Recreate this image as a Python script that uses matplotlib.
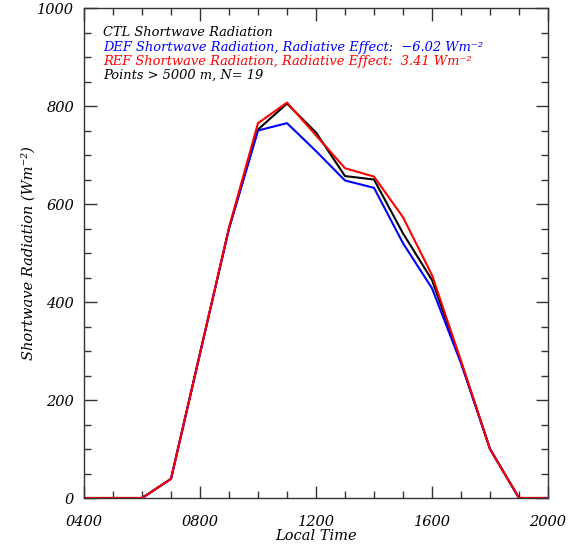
import matplotlib
matplotlib.use("Agg")
import matplotlib.pyplot as plt
from matplotlib.ticker import MultipleLocator, FuncFormatter

hours = [4, 5, 6, 7, 8, 9, 10, 11, 12, 13, 14, 15, 16, 17, 18, 19, 20]
ctl = [0, 0, 0, 39, 295, 550, 752, 805, 746, 657, 650, 540, 445, 278, 100, 0, 0]
dfe = [0, 0, 0, 39, 295, 550, 750, 765, 708, 648, 633, 520, 428, 275, 100, 0, 0]
ref = [0, 0, 0, 39, 295, 552, 765, 807, 740, 673, 656, 573, 455, 280, 100, 0, 0]

legend_lines = [
    ("CTL Shortwave Radiation", "black"),
    ("DEF Shortwave Radiation, Radiative Effect:  \u22126.02 Wm\u207b\u00b2", "#0000ff"),
    ("REF Shortwave Radiation, Radiative Effect:  3.41 Wm\u207b\u00b2", "#ff0000"),
    ("Points > 5000 m, N= 19", "black"),
]

font = dict(family="DejaVu Serif", style="italic")

fig = plt.figure(figsize=(5.74, 5.44), dpi=100)
ax = fig.add_axes([84/574, 1-498/544, 464/574, 490/544])

ax.plot(hours, ctl, color="black", lw=1.5)
ax.plot(hours, dfe, color="#0000ff", lw=1.5)
ax.plot(hours, ref, color="#ff0000", lw=1.5)

ax.set_xlim(4, 20)
ax.set_ylim(0, 1000)
ax.xaxis.set_major_locator(MultipleLocator(4))
ax.xaxis.set_minor_locator(MultipleLocator(1))
ax.yaxis.set_major_locator(MultipleLocator(200))
ax.yaxis.set_minor_locator(MultipleLocator(50))
ax.xaxis.set_major_formatter(FuncFormatter(lambda v, p: f"{int(round(v))*100:04d}"))
ax.tick_params(which="both", direction="in", top=True, right=True, colors="#333333")
ax.tick_params(which="major", length=9, width=1)
ax.tick_params(axis="x", which="major", pad=12)
ax.tick_params(axis="y", which="major", pad=7)
ax.tick_params(which="minor", length=5, width=1)
for lab in ax.get_xticklabels() + ax.get_yticklabels():
    lab.set_fontfamily("DejaVu Serif")
    lab.set_fontstyle("italic")
    lab.set_fontsize(10.5)
    lab.set_color("black")
for s in ax.spines.values():
    s.set_color("#333333")
    s.set_linewidth(1)

ax.set_xlabel("Local Time", fontsize=10.5, labelpad=0, **font)
ax.set_ylabel("Shortwave Radiation (Wm\u207b\u00b2)", fontsize=10.5, labelpad=16, **font)
ax.yaxis.set_label_coords(-48/464, 0.5)

for i, (txt, col) in enumerate(legend_lines):
    fig.text(103/574, 1 - (33 + 14*i)/544, txt, color=col, fontsize=9.4,
             va="center", ha="left", **font)

fig.savefig("out.png", dpi=100)
